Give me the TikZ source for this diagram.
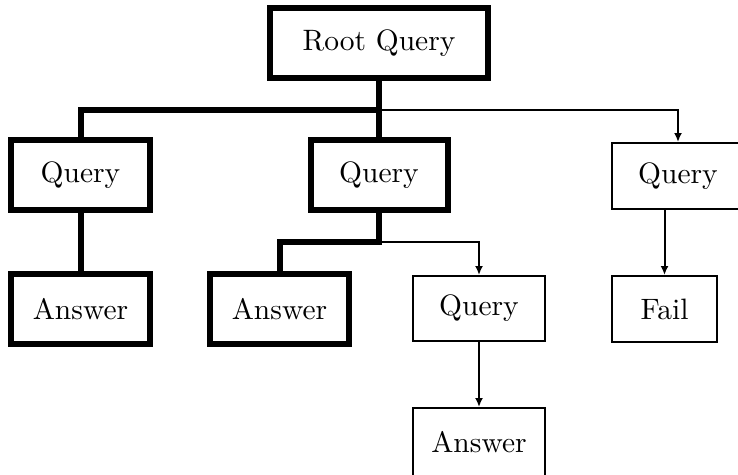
\documentclass[tikz,border=0pt]{standalone}
\usetikzlibrary{arrows.meta}
\newcommand\bigtxt[1]{\scalebox{2.95}{#1}}
\begin{document}
\begin{tikzpicture}[x=1pt,y=-1pt,
  box/.style={draw, rectangle, inner sep=0pt, font=\fontsize{10}{12}\selectfont},
  thickbox/.style={box, line width=6pt, line join=miter},
  thinbox/.style={box, line width=2pt},
  thickline/.style={line width=6pt, line join=miter},
  thinline/.style={line width=2pt, -{Latex[length=9pt,width=8pt]}},
]
\useasboundingbox (0,0) rectangle (738,474);
\clip (0,0) rectangle (738,474);
\node[thickbox, minimum width=218pt, minimum height=70pt] (root) at (379,43) {\bigtxt{Root Query}};
\node[thickbox, minimum width=139pt, minimum height=70pt] (q1) at (80.5,175) {\bigtxt{Query}};
\node[thickbox, minimum width=137pt, minimum height=70pt] (q2) at (379,175) {\bigtxt{Query}};
\node[thinbox, minimum width=132pt, minimum height=66pt] (q3) at (678,176) {\bigtxt{Query}};
\node[thickbox, minimum width=139pt, minimum height=70pt] (a1) at (80.5,309) {\bigtxt{Answer}};
\node[thickbox, minimum width=139pt, minimum height=70pt] (a2) at (279.5,309) {\bigtxt{Answer}};
\node[thinbox, minimum width=132pt, minimum height=65pt] (q4) at (479,308.5) {\bigtxt{Query}};
\node[thinbox, minimum width=105pt, minimum height=66pt] (fail) at (664.5,309) {\bigtxt{Fail}};
\node[thinbox, minimum width=132pt, minimum height=68pt] (a3) at (479,442) {\bigtxt{Answer}};
\coordinate (j1) at (379,110);
\coordinate (j2) at (379,242);
\draw[thinline] (j1) -| (q3.north);
\draw[thickline] (root.south) -- (j1) -- (q2.north);
\draw[thickline] (j1) -| (q1.north);
\draw[thickline] (q1.south) -- (a1.north);
\draw[thinline] (j2) -| (q4.north);
\draw[thickline] (q2.south) -- (j2) -| (a2.north);
\draw[thinline] (q3.south -| fail.north) -- (fail.north);
\draw[thinline] (q4.south) -- (a3.north);
\end{tikzpicture}
\end{document}
